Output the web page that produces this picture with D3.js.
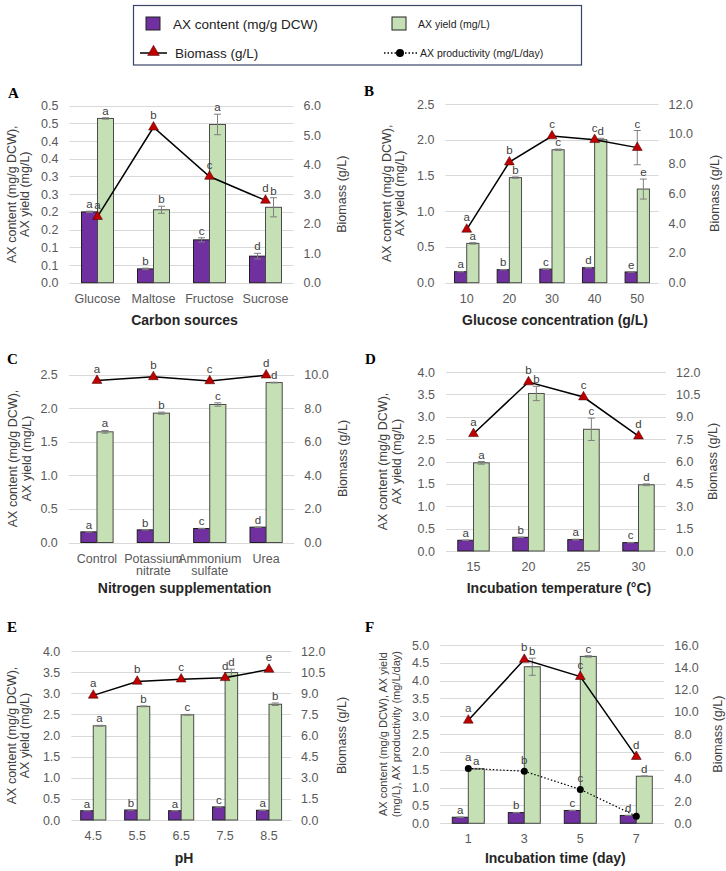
<!DOCTYPE html>
<html>
<head>
<meta charset="utf-8">
<script src="https://cdn.jsdelivr.net/npm/d3@7"></script>
<style>
  body { margin: 0; background: #fff; }
  svg  { display: block; font-family: "Liberation Sans", Arial, sans-serif; }
</style>
</head>
<body>
<svg id="fig" width="726" height="871"></svg>
<script>
// ---------------------------------------------------------------- data ----
// A · carbon sources
const catsA        = [['Glucose'], ['Maltose'], ['Fructose'], ['Sucrose']];
const contentA     = [0.200, 0.039, 0.121, 0.075];
const contentErrA  = [0.002, 0.002, 0.006, 0.008];
const yieldA       = [0.464, 0.206, 0.447, 0.213];
const yieldErrA    = [0.002, 0.010, 0.029, 0.027];
const biomassA     = [2.24, 5.27, 3.60, 2.79];
const biomassErrA  = [0, 0, 0, 0];
const contentLetA  = ['a', 'b', 'c', 'd'];
const yieldLetA    = ['a', 'b', 'a', 'b'];
const biomassLetA  = ['a', 'b', 'c', 'd'];
const leftTicksA   = ['0.0','0.1','0.1','0.2','0.2','0.3','0.3','0.4','0.4','0.5','0.5'];
const rightTicksA  = ['0.0','1.0','2.0','3.0','4.0','5.0','6.0'];

// B · glucose concentration
const catsB        = [['10'], ['20'], ['30'], ['40'], ['50']];
const contentB     = [0.154, 0.182, 0.190, 0.210, 0.150];
const contentErrB  = [0.003, 0.003, 0.003, 0.004, 0.003];
const yieldB       = [0.55, 1.47, 1.86, 2.00, 1.31];
const yieldErrB    = [0.01, 0.01, 0.01, 0.02, 0.14];
const biomassB     = [3.58, 8.10, 9.85, 9.60, 9.07];
const biomassErrB  = [0, 0, 0, 0, 1.15];
const contentLetB  = ['a', 'b', 'c', 'd', 'e'];
const yieldLetB    = ['a', 'b', 'c', 'd', 'e'];
const biomassLetB  = ['a', 'b', 'c', 'c', 'c'];
const leftTicksB   = ['0.0','0.5','1.0','1.5','2.0','2.5'];
const rightTicksB  = ['0.0','2.0','4.0','6.0','8.0','10.0','12.0'];

// C · nitrogen supplementation
const catsC        = [['Control'], ['Potassium', 'nitrate'], ['Ammonium', 'sulfate'], ['Urea']];
const contentC     = [0.158, 0.188, 0.208, 0.228];
const contentErrC  = [0.003, 0.003, 0.003, 0.003];
const yieldC       = [1.647, 1.925, 2.054, 2.380];
const yieldErrC    = [0.020, 0.015, 0.025, 0.005];
const biomassC     = [9.64, 9.86, 9.62, 9.96];
const biomassErrC  = [0, 0, 0, 0];
const contentLetC  = ['a', 'b', 'c', 'd'];
const yieldLetC    = ['a', 'b', 'c', 'd'];
const biomassLetC  = ['a', 'b', 'c', 'd'];
const leftTicksC   = ['0.0','0.5','1.0','1.5','2.0','2.5'];
const rightTicksC  = ['0.0','2.0','4.0','6.0','8.0','10.0'];

// D · incubation temperature
const catsD        = [['15'], ['20'], ['25'], ['30']];
const contentD     = [0.240, 0.306, 0.254, 0.187];
const contentErrD  = [0.005, 0.005, 0.010, 0.005];
const yieldD       = [1.97, 3.52, 2.72, 1.48];
const yieldErrD    = [0.03, 0.16, 0.25, 0.02];
const biomassD     = [7.86, 11.33, 10.32, 7.70];
const biomassErrD  = [0, 0, 0, 0];
const contentLetD  = ['a', 'b', 'a', 'c'];
const yieldLetD    = ['a', 'b', 'c', 'd'];
const biomassLetD  = ['a', 'b', 'c', 'd'];
const leftTicksD   = ['0.0','0.5','1.0','1.5','2.0','2.5','3.0','3.5','4.0'];
const rightTicksD  = ['0.0','1.5','3.0','4.5','6.0','7.5','9.0','10.5','12.0'];

// E · pH
const catsE        = [['4.5'], ['5.5'], ['6.5'], ['7.5'], ['8.5']];
const contentE     = [0.220, 0.236, 0.220, 0.310, 0.230];
const contentErrE  = [0.003, 0.003, 0.003, 0.004, 0.003];
const yieldE       = [2.23, 2.69, 2.49, 3.49, 2.74];
const yieldErrE    = [0.01, 0.01, 0.01, 0.08, 0.03];
const biomassE     = [8.85, 9.84, 10.00, 10.10, 10.69];
const biomassErrE  = [0, 0, 0, 0, 0];
const contentLetE  = ['a', 'b', 'a', 'c', 'a'];
const yieldLetE    = ['a', 'b', 'c', 'd', 'b'];
const biomassLetE  = ['a', 'b', 'c', 'd', 'e'];
const leftTicksE   = ['0.0','0.5','1.0','1.5','2.0','2.5','3.0','3.5','4.0'];
const rightTicksE  = ['0.0','1.5','3.0','4.5','6.0','7.5','9.0','10.5','12.0'];

// F · incubation time
const catsF        = [['1'], ['3'], ['5'], ['7']];
const contentF     = [0.17, 0.30, 0.36, 0.22];
const contentErrF  = [0.003, 0.005, 0.005, 0.004];
const yieldF       = [1.53, 4.39, 4.68, 1.32];
const yieldErrF    = [0.01, 0.24, 0.02, 0.01];
const biomassF     = [9.24, 14.70, 13.16, 5.98];
const biomassErrF  = [0, 0, 0, 0];
const productF     = [1.54, 1.46, 0.95, 0.20];
const contentLetF  = ['a', 'b', 'c', 'd'];
const yieldLetF    = ['a', 'b', 'c', 'd'];
const biomassLetF  = ['a', 'b', 'c', 'd'];
const productLetF  = ['a', 'b', 'c', ''];
const leftTicksF   = ['0.0','0.5','1.0','1.5','2.0','2.5','3.0','3.5','4.0','4.5','5.0'];
const rightTicksF  = ['0.0','2.0','4.0','6.0','8.0','10.0','12.0','14.0','16.0'];

// ------------------------------------------------------------- styling ----
const PURPLE = '#7030a0';
const GREEN  = '#c5e0b4';
const RED    = '#c00000';
const GRID   = '#d9d9d9';
const TICK   = '#595959';

const svg = d3.select('#fig');

/* ---------- legend ---------------------------------------------------- */
const leg = svg.append('g');
leg.append('rect').attr('x', 133.5).attr('y', 5.5).attr('width', 448).attr('height', 59.5)
   .attr('fill', '#fff').attr('stroke', '#3a4468').attr('stroke-width', 1.2);
leg.append('rect').attr('x', 146).attr('y', 17).attr('width', 14).attr('height', 13)
   .attr('fill', PURPLE).attr('stroke', '#222');
leg.append('text').attr('x', 173).attr('y', 29).attr('font-size', 13.5).attr('fill', '#222')
   .text('AX content (mg/g DCW)');
leg.append('rect').attr('x', 392).attr('y', 17).attr('width', 14).attr('height', 13)
   .attr('fill', GREEN).attr('stroke', '#222');
leg.append('text').attr('x', 418).attr('y', 28).attr('font-size', 10.5).attr('fill', '#222')
   .text('AX yield (mg/L)');
leg.append('line').attr('x1', 140).attr('x2', 167).attr('y1', 53).attr('y2', 53)
   .attr('stroke', '#000').attr('stroke-width', 1.5);
leg.append('path').attr('d', d3.symbol(d3.symbolTriangle, 60)())
   .attr('transform', 'translate(153.5,52)').attr('fill', RED).attr('stroke', '#400').attr('stroke-width', .5);
leg.append('text').attr('x', 175).attr('y', 58).attr('font-size', 13.5).attr('fill', '#222')
   .text('Biomass (g/L)');
leg.append('line').attr('x1', 384).attr('x2', 417).attr('y1', 53).attr('y2', 53)
   .attr('stroke', '#000').attr('stroke-width', 1.5).attr('stroke-dasharray', '1.5,2');
leg.append('circle').attr('cx', 400).attr('cy', 53).attr('r', 4).attr('fill', '#000');
leg.append('text').attr('x', 420).attr('y', 57).attr('font-size', 10.5).attr('fill', '#222')
   .text('AX productivity (mg/L/day)');

/* ---------- panels ---------------------------------------------------- */
const panels = [
  { tag:'A', cats:catsA, content:contentA, contentErr:contentErrA, yld:yieldA, yldErr:yieldErrA,
    bio:biomassA, bioErr:biomassErrA, cLet:contentLetA, yLet:yieldLetA, bLet:biomassLetA,
    lTicks:leftTicksA, lStep:0.05, rTicks:rightTicksA, rStep:1,
    title:'Carbon sources',
    x0:69.5, x1:293.5, yTop:105.7, yBot:282.7, ltX:[12,25], rtX:342, tagXY:[8,98], titleY:325 },
  { tag:'B', cats:catsB, content:contentB, contentErr:contentErrB, yld:yieldB, yldErr:yieldErrB,
    bio:biomassB, bioErr:biomassErrB, cLet:contentLetB, yLet:yieldLetB, bLet:biomassLetB,
    lTicks:leftTicksB, lStep:0.5, rTicks:rightTicksB, rStep:2,
    title:'Glucose concentration (g/L)',
    x0:445.4, x1:658.6, yTop:104, yBot:282.7, ltX:[387,400], rtX:715, tagXY:[364,96], titleY:325 },
  { tag:'C', cats:catsC, content:contentC, contentErr:contentErrC, yld:yieldC, yldErr:yieldErrC,
    bio:biomassC, bioErr:biomassErrC, cLet:contentLetC, yLet:yieldLetC, bLet:biomassLetC,
    lTicks:leftTicksC, lStep:0.5, rTicks:rightTicksC, rStep:2,
    title:'Nitrogen supplementation',
    x0:68.8, x1:294.3, yTop:374.5, yBot:542.5, ltX:[13,27], rtX:343, tagXY:[7,364], titleY:593 },
  { tag:'D', cats:catsD, content:contentD, contentErr:contentErrD, yld:yieldD, yldErr:yieldErrD,
    bio:biomassD, bioErr:biomassErrD, cLet:contentLetD, yLet:yieldLetD, bLet:biomassLetD,
    lTicks:leftTicksD, lStep:0.5, rTicks:rightTicksD, rStep:1.5,
    title:'Incubation temperature (°C)',
    x0:446, x1:666, yTop:372, yBot:551, ltX:[383,397], rtX:713, tagXY:[365,364], titleY:593 },
  { tag:'E', cats:catsE, content:contentE, contentErr:contentErrE, yld:yieldE, yldErr:yieldErrE,
    bio:biomassE, bioErr:biomassErrE, cLet:contentLetE, yLet:yieldLetE, bLet:biomassLetE,
    lTicks:leftTicksE, lStep:0.5, rTicks:rightTicksE, rStep:1.5,
    title:'pH',
    x0:71.3, x1:291, yTop:651, yBot:820, ltX:[12,25], rtX:342, tagXY:[7,632], titleY:863 },
  { tag:'F', cats:catsF, content:contentF, contentErr:contentErrF, yld:yieldF, yldErr:yieldErrF,
    bio:biomassF, bioErr:biomassErrF, cLet:contentLetF, yLet:yieldLetF, bLet:biomassLetF,
    prod:productF, pLet:productLetF,
    lTicks:leftTicksF, lStep:0.5, rTicks:rightTicksF, rStep:2,
    title:'Incubation time (day)', smallTitle:true,
    x0:440.3, x1:664.3, yTop:645, yBot:823.3, ltX:[383,396], rtX:718, tagXY:[365,632], titleY:863 }
];

panels.forEach(drawPanel);

function drawPanel(p) {
  const g = svg.append('g');
  const idx = p.cats.map((_, i) => i);
  const lVals = p.lTicks.map((_, i) => i * p.lStep);
  const rVals = p.rTicks.map((_, i) => i * p.rStep);

  const x   = d3.scaleBand().domain(idx).range([p.x0, p.x1]);
  const sub = d3.scaleBand().domain(['c', 'y']).range([0, x.bandwidth()])
                .paddingInner(0).paddingOuter(0.75);
  const yL  = d3.scaleLinear().domain([0, d3.max(lVals)]).range([p.yBot, p.yTop]);
  const yR  = d3.scaleLinear().domain([0, d3.max(rVals)]).range([p.yBot, p.yTop]);
  const cx  = i => x(i) + x.bandwidth() / 2;

  // grid
  g.append('g').selectAll('line').data(lVals).join('line')
    .attr('x1', p.x0).attr('x2', p.x1)
    .attr('y1', d => Math.round(yL(d)) + .5).attr('y2', d => Math.round(yL(d)) + .5)
    .attr('stroke', GRID);

  // axes
  const la = g.append('g').attr('transform', `translate(${p.x0},0)`)
    .call(d3.axisLeft(yL).tickValues(lVals).tickFormat((d, i) => p.lTicks[i]).tickSize(0).tickPadding(11));
  const ra = g.append('g').attr('transform', `translate(${p.x1},0)`)
    .call(d3.axisRight(yR).tickValues(rVals).tickFormat((d, i) => p.rTicks[i]).tickSize(0).tickPadding(10));
  [la, ra].forEach(a => {
    a.select('.domain').remove();
    a.selectAll('text').attr('font-size', 12.5).attr('fill', TICK)
      .attr('font-family', '"Liberation Sans", Arial, sans-serif');
  });

  // category labels
  const cl = g.append('g').selectAll('text').data(p.cats).join('text')
    .attr('text-anchor', 'middle').attr('font-size', 12.5).attr('fill', TICK)
    .attr('x', (d, i) => cx(i)).attr('y', p.yBot + 20);
  cl.selectAll('tspan').data(d => d).join('tspan')
    .attr('x', function () { return d3.select(this.parentNode).attr('x'); })
    .attr('dy', (d, i) => i ? 12.5 : 0).text(d => d);

  // bars
  const bars = [
    { key:'c', vals:p.content, err:p.contentErr, fill:PURPLE, stroke:'#1e1e1e', lets:p.cLet },
    { key:'y', vals:p.yld,     err:p.yldErr,     fill:GREEN,  stroke:'#4a4a4a', lets:p.yLet }
  ];
  bars.forEach(b => {
    const bx = i => x(i) + sub(b.key);
    g.append('g').selectAll('rect').data(b.vals).join('rect')
      .attr('x', (d, i) => bx(i)).attr('width', sub.bandwidth())
      .attr('y', d => yL(d)).attr('height', d => yL(0) - yL(d))
      .attr('fill', b.fill).attr('stroke', b.stroke).attr('stroke-width', 1);
    drawErr(g, b.vals.map((v, i) => ({ x: bx(i) + sub.bandwidth() / 2, v, e: b.err[i] })), yL);
    g.append('g').selectAll('text').data(b.vals).join('text')
      .attr('x', (d, i) => bx(i) + sub.bandwidth() / 2)
      .attr('y', (d, i) => yL(d + b.err[i]) - 3)
      .attr('text-anchor', 'middle').attr('font-size', 11.5).attr('fill', '#404040')
      .text((d, i) => b.lets[i]);
  });

  // productivity (dotted, left axis)
  if (p.prod) {
    g.append('path').datum(p.prod)
      .attr('d', d3.line().x((d, i) => cx(i)).y(d => yL(d)))
      .attr('fill', 'none').attr('stroke', '#000').attr('stroke-width', 1.2)
      .attr('stroke-dasharray', '1.5,2');
    g.append('g').selectAll('circle').data(p.prod).join('circle')
      .attr('cx', (d, i) => cx(i)).attr('cy', d => yL(d)).attr('r', 3.5).attr('fill', '#000');
    g.append('g').selectAll('text').data(p.prod).join('text')
      .attr('x', (d, i) => cx(i)).attr('y', d => yL(d) - 7)
      .attr('text-anchor', 'middle').attr('font-size', 11.5).attr('fill', '#404040')
      .text((d, i) => p.pLet[i]);
  }

  // biomass (right axis)
  g.append('path').datum(p.bio)
    .attr('d', d3.line().x((d, i) => cx(i)).y(d => yR(d)))
    .attr('fill', 'none').attr('stroke', '#000').attr('stroke-width', 1.5);
  drawErr(g, p.bio.map((v, i) => ({ x: cx(i), v, e: p.bioErr[i] })), yR);
  g.append('g').selectAll('path').data(p.bio).join('path')
    .attr('d', d3.symbol(d3.symbolTriangle, 42)())
    .attr('transform', (d, i) => `translate(${cx(i)},${yR(d)})`)
    .attr('fill', RED).attr('stroke', '#300').attr('stroke-width', .5);
  g.append('g').selectAll('text').data(p.bio).join('text')
    .attr('x', (d, i) => cx(i))
    .attr('y', (d, i) => p.bioErr[i] ? yR(d + p.bioErr[i]) - 3 : yR(d) - 8)
    .attr('text-anchor', 'middle').attr('font-size', 11.5).attr('fill', '#404040')
    .text((d, i) => p.bLet[i]);

  // axis titles
  const midY = (p.yTop + p.yBot) / 2;
  const lLines = p.smallTitle
    ? ['AX content (mg/g DCW), AX yield', '(mg/L), AX productivity (mg/L/day)']
    : ['AX content (mg/g DCW),', 'AX yield (mg/L)'];
  lLines.forEach((t, i) => {
    g.append('text')
      .attr('transform', `translate(${p.ltX[i]},${midY}) rotate(-90)`)
      .attr('text-anchor', 'middle').attr('dominant-baseline', 'central')
      .attr('font-size', p.smallTitle ? 11 : 12.5).attr('fill', '#404040').text(t);
  });
  g.append('text')
    .attr('transform', `translate(${p.rtX},${midY}) rotate(-90)`)
    .attr('text-anchor', 'middle').attr('dominant-baseline', 'central')
    .attr('font-size', 12.5).attr('fill', '#404040').text('Biomass (g/L)');

  g.append('text').attr('x', (p.x0 + p.x1) / 2 + 3).attr('y', p.titleY)
    .attr('text-anchor', 'middle').attr('font-size', 14).attr('font-weight', 'bold')
    .attr('fill', '#262626').text(p.title);

  g.append('text').attr('x', p.tagXY[0]).attr('y', p.tagXY[1])
    .attr('font-family', '"Liberation Serif", "Times New Roman", serif')
    .attr('font-size', 15).attr('font-weight', 'bold').attr('fill', '#000').text(p.tag);
}

function drawErr(g, pts, y) {
  const eg = g.append('g').attr('stroke', '#7f7f7f').attr('stroke-width', 1);
  pts.filter(d => d.e > 0).forEach(d => {
    eg.append('line').attr('x1', d.x).attr('x2', d.x)
      .attr('y1', y(d.v - d.e)).attr('y2', y(d.v + d.e));
    [d.v - d.e, d.v + d.e].forEach(v => {
      eg.append('line').attr('x1', d.x - 3.5).attr('x2', d.x + 3.5)
        .attr('y1', y(v)).attr('y2', y(v));
    });
  });
}
</script>
</body>
</html>
